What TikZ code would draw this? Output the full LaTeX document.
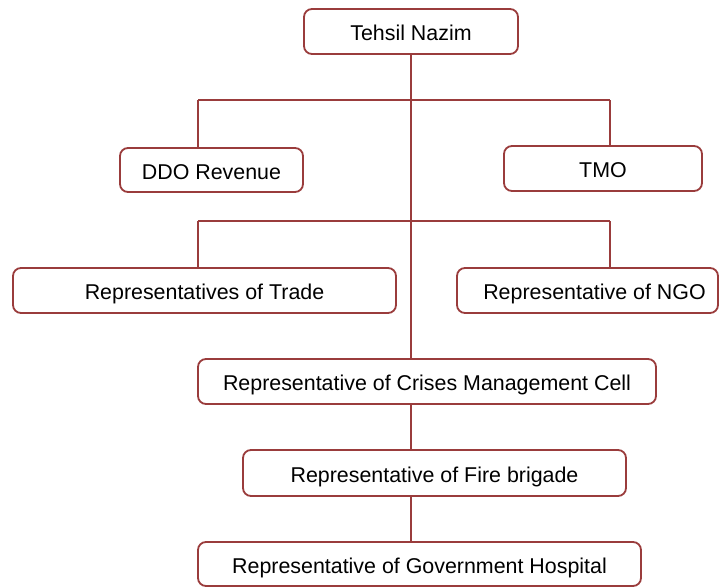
\documentclass[tikz,border=0pt]{standalone}
\usepackage{fontspec}
\setmainfont{Liberation Sans}
\definecolor{boxred}{HTML}{9A3C3C}
\begin{document}
\begin{tikzpicture}[x=1pt,y=1pt,
  box/.style={draw=boxred, line width=1.8pt, rounded corners=8pt, fill=white,
    inner sep=0pt, text height=18pt, text depth=0pt,
    font=\fontsize{21.4}{25}\selectfont, text=black},
  link/.style={draw=boxred, line width=1.8pt}]
\useasboundingbox (0,0) rectangle (720,-587);
\node[box, minimum width=214, minimum height=45] (tehsil) at (411,-31.5) {Tehsil Nazim};
\node[box, minimum width=183, minimum height=44] (ddo) at (211.5,-170) {DDO Revenue};
\node[box, minimum width=198, minimum height=45] (tmo) at (603,-168.5) {TMO};
\node[box, minimum width=383, minimum height=45] (trade) at (204.5,-290.5) {Representatives of Trade};
\node[box, minimum width=261, minimum height=45] (ngo) at (587.5,-290.5) {\hspace*{14pt}Representative of NGO};
\node[box, minimum width=458, minimum height=45] (crises) at (427,-381.5) {Representative of Crises Management Cell};
\node[box, minimum width=383, minimum height=46] (fire) at (434.5,-473) {Representative of Fire brigade};
\node[box, minimum width=443, minimum height=44] (hosp) at (419.5,-564) {Representative of Government Hospital};
\coordinate (aL) at (198,-100);
\coordinate (aR) at (610,-100);
\coordinate (bL) at (198,-221);
\coordinate (bR) at (610,-221);
\path[link] (tehsil.south) -- (tehsil.south |- crises.north);
\path[link] (aL) -- (aR);
\path[link] (aL) -- (aL |- ddo.north);
\path[link] (aR) -- (aR |- tmo.north);
\path[link] (bL) -- (bR);
\path[link] (bL) -- (bL |- trade.north);
\path[link] (bR) -- (bR |- ngo.north);
\path[link] (crises.south -| tehsil.south) -- (fire.north -| tehsil.south);
\path[link] (fire.south -| tehsil.south) -- (hosp.north -| tehsil.south);
\end{tikzpicture}
\end{document}
